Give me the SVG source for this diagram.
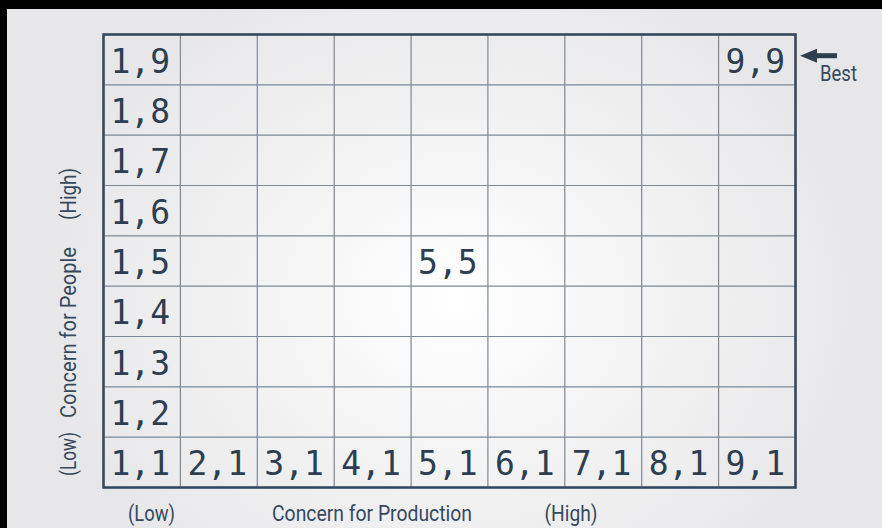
<svg xmlns="http://www.w3.org/2000/svg" width="882" height="528" viewBox="0 0 882 528">
<defs>
<radialGradient id="bg" gradientUnits="userSpaceOnUse" cx="455" cy="300" r="420" gradientTransform="translate(455 300) scale(1 0.85) translate(-455 -300)">
<stop offset="0" stop-color="#ffffff"/>
<stop offset="0.55" stop-color="#f1f1f2"/>
<stop offset="1" stop-color="#e7e7e9"/>
</radialGradient>
</defs>
<style>
.num{font-family:"DejaVu Sans Mono","Liberation Mono",monospace;font-size:33px;fill:#2c3e50}
.lbl{font-family:Roboto,"Liberation Sans",sans-serif;font-size:22px;fill:#34495e}
.inner{stroke:#7d8995;stroke-width:1.2;fill:none}
.outer{stroke:#34495e;stroke-width:2.6;fill:none}
.arrow{fill:#2c3e50}
</style>
<rect x="0" y="0" width="882" height="528" fill="url(#bg)"/>
<rect x="0" y="0" width="882" height="9" fill="#000"/>
<rect x="0" y="0" width="7" height="528" fill="#000"/>

<g id="grid">
<path class="inner" d="M180.4,34.5V487.5M257.3,34.5V487.5M334.2,34.5V487.5M411.1,34.5V487.5M487.9,34.5V487.5M564.8,34.5V487.5M641.7,34.5V487.5M718.6,34.5V487.5M103.5,84.8H795.5M103.5,135.2H795.5M103.5,185.5H795.5M103.5,235.8H795.5M103.5,286.2H795.5M103.5,336.5H795.5M103.5,386.8H795.5M103.5,437.2H795.5"/>
<rect class="outer" x="103.5" y="34.5" width="692" height="453"/>
</g>

<g id="cell-1-9"><text class="num" x="110.5" y="72.5">1,9</text></g>
<g id="cell-1-8"><text class="num" x="110.5" y="122.8">1,8</text></g>
<g id="cell-1-7"><text class="num" x="110.5" y="173.2">1,7</text></g>
<g id="cell-1-6"><text class="num" x="110.5" y="223.5">1,6</text></g>
<g id="cell-1-5"><text class="num" x="110.5" y="273.8">1,5</text></g>
<g id="cell-1-4"><text class="num" x="110.5" y="324.2">1,4</text></g>
<g id="cell-1-3"><text class="num" x="110.5" y="374.5">1,3</text></g>
<g id="cell-1-2"><text class="num" x="110.5" y="424.8">1,2</text></g>
<g id="cell-1-1"><text class="num" x="110.5" y="475.2">1,1</text></g>
<g id="cell-2-1"><text class="num" x="187.4" y="475.2">2,1</text></g>
<g id="cell-3-1"><text class="num" x="264.3" y="475.2">3,1</text></g>
<g id="cell-4-1"><text class="num" x="341.2" y="475.2">4,1</text></g>
<g id="cell-5-1"><text class="num" x="418.1" y="475.2">5,1</text></g>
<g id="cell-6-1"><text class="num" x="494.9" y="475.2">6,1</text></g>
<g id="cell-7-1"><text class="num" x="571.8" y="475.2">7,1</text></g>
<g id="cell-8-1"><text class="num" x="648.7" y="475.2">8,1</text></g>
<g id="cell-9-1"><text class="num" x="725.6" y="475.2">9,1</text></g>
<g id="cell-5-5"><text class="num" x="418.1" y="273.8">5,5</text></g>
<g id="cell-9-9"><text class="num" x="725.6" y="72.5">9,9</text></g>

<g id="connectors">
<rect class="arrow" x="814" y="53.2" width="23" height="5"/>
<polygon class="arrow" points="800,55.7 817,48.7 817,62.7"/>
</g>
<g id="best"><text class="lbl" x="820" y="80.5" textLength="37" lengthAdjust="spacingAndGlyphs">Best</text></g>

<g id="y-axis">
<text class="lbl" transform="translate(76 194) rotate(-90)" text-anchor="middle" textLength="52" lengthAdjust="spacingAndGlyphs">(High)</text>
<text class="lbl" transform="translate(76 332.5) rotate(-90)" text-anchor="middle" textLength="171" lengthAdjust="spacingAndGlyphs">Concern for People</text>
<text class="lbl" transform="translate(76 454) rotate(-90)" text-anchor="middle" textLength="44" lengthAdjust="spacingAndGlyphs">(Low)</text>
</g>
<g id="x-axis">
<text class="lbl" x="151.5" y="521" text-anchor="middle" textLength="47" lengthAdjust="spacingAndGlyphs">(Low)</text>
<text class="lbl" x="372" y="521" text-anchor="middle" textLength="200" lengthAdjust="spacingAndGlyphs">Concern for Production</text>
<text class="lbl" x="571" y="521" text-anchor="middle" textLength="53" lengthAdjust="spacingAndGlyphs">(High)</text>
</g>
</svg>
